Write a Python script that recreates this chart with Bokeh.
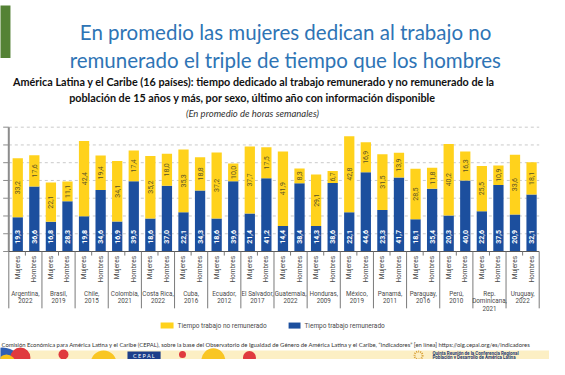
import math
from bokeh.plotting import figure
from bokeh.models import Range1d, ColumnDataSource
from bokeh.core.properties import value
from bokeh.embed import file_html
from bokeh.resources import INLINE

# ---------------- data ----------------
countries = ["Argentina", "Brasil", "Chile", "Colombia", "Costa Rica", "Cuba",
             "Ecuador", "El Salvador", "Guatemala", "Honduras", "México",
             "Panamá", "Paraguay", "Perú", "Rep.\nDominicana", "Uruguay"]
years = [2022, 2019, 2015, 2021, 2022, 2016, 2012, 2017, 2022, 2009, 2019,
         2011, 2016, 2010, 2021, 2022]
sexes = ["Mujeres", "Hombres"]
mujeres_remunerado = [19.3, 16.8, 19.8, 16.9, 18.6, 22.1, 18.6, 21.4, 14.4, 14.3,
                      22.1, 23.3, 18.1, 20.3, 22.6, 20.9]
mujeres_no_remunerado = [33.2, 22.1, 42.4, 34.1, 35.2, 35.3, 37.2, 37.7, 41.9, 29.1,
                         42.8, 31.5, 28.5, 40.2, 25.5, 33.6]
hombres_remunerado = [36.6, 28.3, 34.6, 39.5, 37.0, 34.3, 39.6, 41.2, 38.4, 38.6,
                      44.6, 41.7, 35.4, 40.0, 37.5, 32.1]
hombres_no_remunerado = [17.6, 11.1, 19.4, 17.4, 18.0, 18.8, 10.0, 17.5, 8.3, 6.7,
                         16.9, 13.9, 11.8, 16.3, 10.9, 18.1]
y_ticks = [0, 10, 20, 30, 40, 50, 60, 70]
legend_labels = ["Tiempo trabajo no remunerado", "Tiempo trabajo remunerado"]

title_lines = ["En promedio las mujeres dedican al trabajo no",
               "remunerado el triple de tiempo que los hombres"]
subtitle_lines = ["América Latina y el Caribe (16 países): tiempo dedicado al trabajo remunerado y no remunerado de la",
                  "población de 15 años y más, por sexo, último año con información disponible"]
units_text = "(En promedio de horas semanales)"
source_text = ("Comisión Económica para América Latina y el Caribe (CEPAL), sobre la base del "
               "Observatorio de Igualdad de Género de América Latina y el Caribe, \u201cIndicadores\u201d "
               "[en línea] https://oig.cepal.org/es/indicadores")
conf_lines = ["Quinta Reunión de la Conferencia Regional",
              "Población y Desarrollo de América Latina"]

# ---------------- styles ----------------
YELLOW = "#FFD21C"
BLUE = "#1C4F9E"
GRAY_TXT = "#4a4a4a"
LATO = value("Lato")
ROBOTO = value("Roboto")

n = len(countries)
off_m, off_h, bw = 0.27, 0.77, 0.31

p = figure(width=549, height=359, output_backend="svg", toolbar_location=None, title=None,
           x_range=Range1d(-0.2504, 16.311), y_range=Range1d(-60.81, 141.33),
           x_axis_type=None, y_axis_type=None, min_border=0,
           outline_line_color=None, background_fill_color="white")
p.grid.visible = False

# ---------------- bottom band & decorations ----------------
p.quad(left=[-1], right=[18], bottom=[-80], top=[-55.7], fill_color="#FCEFC4", line_color=None)
p.scatter(x=[-0.19, 0.35, -0.07, 1.65, 2.86, 5.24, 6.17, 7.26, 5.36],
          y=[-65.3, -59.7, -63.1, -58.0, -63.1, -58.0, -61.3, -59.7, -64.2],
          size=[40, 20, 18, 10, 26, 7, 24, 13, 9],
          color=["#2f5fb3", "#e03a3e", "#f7c21a", "#e03a3e", "#f9c623", "#e03a3e",
                 "#f9c623", "#e03a3e", "#e03a3e"], line_color=None)
p.quad(left=[3.58], right=[4.58], bottom=[-61.5], top=[-56.3], fill_color="#1d3f8a", line_color=None)
p.text(x=[4.08], y=[-58.9], text=["C E P A L"], text_color="white", text_font=LATO,
       text_font_size="5.5px", text_align="center", text_baseline="middle")
p.scatter(x=[12.36], y=[-58.6], size=8, fill_color=None, line_color="#d9a23a", line_width=2,
          line_dash="1 1")
p.text(x=[12.78, 12.78], y=[-57.4, -59.75], text=conf_lines, text_color="#1f3b73",
       text_font=ROBOTO, text_font_style="bold", text_font_size="4.5px",
       text_align="left", text_baseline="middle")

# ---------------- header ----------------
p.quad(left=[-1], right=[0.05], bottom=[109.0], top=[138.5], fill_color="#548235", line_color=None)
p.text(x=[8.35, 8.34], y=[123.6, 107.9], text=title_lines, text_color="#2E74B5",
       text_font=LATO, text_font_size="20.5px", text_align="center", text_baseline="alphabetic")
p.text(x=[7.4, 7.35], y=[95.9, 86.5], text=subtitle_lines, text_color="#111111",
       text_font=LATO, text_font_style="bold", text_font_size="10.8px",
       text_align="center", text_baseline="middle")
p.text(x=[7.35], y=[77.9], text=[units_text], text_color="#333333", text_font=LATO,
       text_font_style="italic", text_font_size="9.5px", text_align="center",
       text_baseline="middle")

# ---------------- grid & axes ----------------
grid_y = [t for t in y_ticks if t > 0]
p.multi_line(xs=[[0, n] for _ in grid_y], ys=[[t, t] for t in grid_y],
             line_color="#bdbdbd", line_width=0.8, line_dash="3 3")
p.segment(x0=[0], y0=[0], x1=[0], y1=[max(y_ticks)], line_color="#8c8c8c", line_width=2)
p.segment(x0=[-0.17] * len(y_ticks), y0=y_ticks, x1=[0] * len(y_ticks), y1=y_ticks,
          line_color="#8c8c8c", line_width=1)

# ---------------- bars ----------------
xm = [i + off_m for i in range(n)]
xh = [i + off_h for i in range(n)]
m_tot = [a + b for a, b in zip(mujeres_remunerado, mujeres_no_remunerado)]
h_tot = [a + b for a, b in zip(hombres_remunerado, hombres_no_remunerado)]

x_all = xm + xh
rem_all = mujeres_remunerado + hombres_remunerado
norem_all = mujeres_no_remunerado + hombres_no_remunerado
tot_all = m_tot + h_tot

src = ColumnDataSource(dict(
    x=x_all, rem=rem_all, tot=tot_all,
    rem_lbl=[f"{v:.1f}".replace(".", ",") for v in rem_all],
    norem_lbl=[f"{v:.1f}".replace(".", ",") for v in norem_all],
    norem_mid=[r + u / 2 for r, u in zip(rem_all, norem_all)],
    lbl_y=[4.4] * len(x_all),
))
p.vbar(x="x", bottom=0, top="rem", width=bw, source=src, fill_color=BLUE, line_color=None)
p.vbar(x="x", bottom="rem", top="tot", width=bw, source=src, fill_color=YELLOW, line_color=None)

p.text(x="x", y="lbl_y", text="rem_lbl", source=src, angle=math.pi / 2,
       text_color="white", text_font=ROBOTO, text_font_style="bold", text_font_size="7px",
       text_align="left", text_baseline="middle")
p.text(x="x", y="norem_mid", text="norem_lbl", source=src, angle=math.pi / 2,
       text_color="#5a5326", text_font=ROBOTO, text_font_size="7px",
       text_align="center", text_baseline="middle")

# baseline, separators, ticks
p.segment(x0=[0], y0=[0], x1=[n], y1=[0], line_color="#5a5a5a", line_width=1.2)
p.segment(x0=list(range(n + 1)), y0=[0] * (n + 1), x1=list(range(n + 1)),
          y1=[-32] * (n + 1), line_color="#7a7a7a", line_width=1)
p.segment(x0=[i + 0.5 for i in range(n)], y0=[0] * n, x1=[i + 0.5 for i in range(n)],
          y1=[-2.3] * n, line_color="#7a7a7a", line_width=1)

# category labels
p.text(x=x_all, y=[-2.5] * len(x_all), text=[sexes[0]] * n + [sexes[1]] * n,
       angle=math.pi / 2, text_color=GRAY_TXT, text_font=ROBOTO, text_font_size="6.5px",
       text_align="right", text_baseline="middle")
p.text(x=[i + 0.5 for i in range(n)], y=[-21.4] * n,
       text=[f"{c},\n{y}" for c, y in zip(countries, years)],
       text_color=GRAY_TXT, text_font=ROBOTO, text_font_size="6.3px",
       text_align="center", text_baseline="top", text_line_height=0.95)

# ---------------- legend ----------------
p.quad(left=[4.58, 8.44], right=[4.97, 8.80], bottom=[-43.4, -43.4], top=[-40.0, -40.0],
       fill_color=[YELLOW, BLUE], line_color=None)
p.text(x=[5.09, 8.92], y=[-41.7, -41.7], text=legend_labels, text_color=GRAY_TXT,
       text_font=ROBOTO, text_font_size="6.5px", text_align="left", text_baseline="middle")

# ---------------- source ----------------
p.text(x=[-0.22], y=[-52.4], text=[source_text], text_color="#333333", text_font=LATO,
       text_font_size="5.9px", text_align="left", text_baseline="middle")

open("out.html", "w").write(file_html(p, INLINE))
